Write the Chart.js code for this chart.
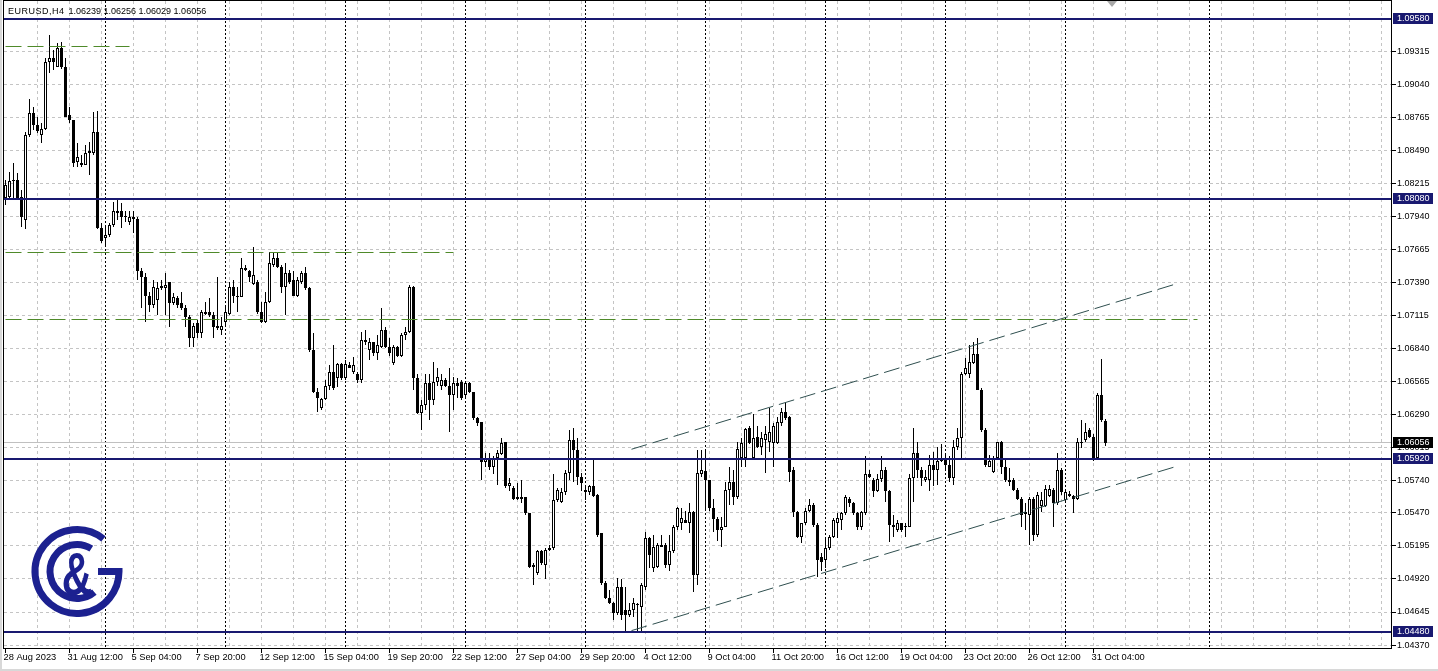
<!DOCTYPE html>
<html>
<head>
<meta charset="utf-8">
<title>EURUSD,H4</title>
<script src="https://cdn.jsdelivr.net/npm/chart.js@4"></script>
<style>
  html, body { margin: 0; padding: 0; background: #fff; }
  #wrap { position: relative; width: 1438px; height: 671px; overflow: hidden; }
  #caption {
    position: absolute; left: 8px; top: 5px;
    font: 9px "Liberation Sans", Arial, sans-serif; line-height: 12px;
    color: #000; white-space: pre;
  }
  #caption .sym { letter-spacing: 0.5px; }
  #caption .ohlc { margin-left: 4px; }
</style>
</head>
<body>
<div id="wrap">
  <canvas id="chart" width="1438" height="671"></canvas>
  <div id="caption"><span class="sym">EURUSD,H4</span><span class="ohlc" id="ohlc"></span></div>
</div>
<script>
// H4 candles, 28 Aug 2023 20:00 .. 31 Oct 2023 16:00
const opens = [
  1.0809,1.0810,1.0823,1.0824,1.0810,1.0791,1.0862,1.0880,1.0870,1.0862,
  1.0867,1.0922,1.0926,1.0918,1.0934,1.0918,1.0878,1.0874,1.0839,1.0838,
  1.0837,1.0847,1.0847,1.0864,1.0784,1.0776,1.0778,1.0787,1.0798,1.0798,
  1.0793,1.0789,1.0793,1.0792,1.0748,1.0743,1.0728,1.0720,1.0724,1.0734,
  1.0734,1.0739,1.0722,1.0726,1.0722,1.0718,1.0710,1.0693,1.0705,1.0697,
  1.0713,1.0714,1.0712,1.0703,1.0699,1.0706,1.0713,1.0735,1.0728,1.0727,
  1.0751,1.0748,1.0738,1.0739,1.0714,1.0706,1.0723,1.0753,1.0759,1.0752,
  1.0735,1.0747,1.0741,1.0728,1.0739,1.0747,1.0734,1.0683,1.0648,1.0634,
  1.0642,1.0653,1.0664,1.0659,1.0671,1.0659,1.0670,1.0664,1.0663,1.0658,
  1.0691,1.0683,1.0689,1.0680,1.0685,1.0699,1.0685,1.0672,1.0685,1.0678,
  1.0695,1.0698,1.0735,1.0659,1.0630,1.0637,1.0655,1.0641,1.0656,1.0653,
  1.0658,1.0653,1.0645,1.0655,1.0656,1.0645,1.0655,1.0648,1.0626,1.0623,
  1.0589,1.0593,1.0585,1.0593,1.0596,1.0606,1.0569,1.0568,1.0560,1.0560,
  1.0560,1.0547,1.0504,1.0497,1.0515,1.0504,1.0516,1.0518,1.0558,1.0556,
  1.0564,1.0580,1.0608,1.0599,1.0577,1.0566,1.0564,1.0569,1.0562,1.0530,
  1.0489,1.0476,1.0472,1.0464,1.0485,1.0466,1.0462,1.0466,1.0471,1.0469,
  1.0485,1.0526,1.0501,1.0502,1.0520,1.0520,1.0504,1.0515,1.0535,1.0539,
  1.0541,1.0539,1.0548,1.0495,1.0579,1.0582,1.0574,1.0551,1.0542,1.0533,
  1.0535,1.0566,1.0573,1.0560,1.0593,1.0593,1.0618,1.0593,1.0610,1.0602,
  1.0608,1.0606,1.0605,1.0605,1.0622,1.0631,1.0627,1.0583,1.0548,1.0527,
  1.0539,1.0549,1.0554,1.0537,1.0510,1.0508,1.0518,1.0527,1.0539,1.0541,
  1.0547,1.0559,1.0555,1.0547,1.0535,1.0547,1.0579,1.0574,1.0565,1.0575,
  1.0583,1.0565,1.0537,1.0533,1.0539,1.0535,1.0535,1.0576,1.0597,1.0583,
  1.0574,1.0574,1.0587,1.0583,1.0590,1.0591,1.0587,1.0576,1.0602,1.0609,
  1.0663,1.0663,1.0672,1.0679,1.0649,1.0616,1.0585,1.0581,1.0593,1.0606,
  1.0585,1.0574,1.0574,1.0566,1.0559,1.0548,1.0545,1.0559,1.0529,1.0553,
  1.0553,1.0561,1.0566,1.0555,1.0583,1.0558,1.0563,1.0561,1.0559,1.0605,
  1.0608,1.0616,1.0610,1.0593,1.0645,1.06239
];
const highs = [
  1.0824,1.0831,1.0838,1.0830,1.0816,1.0864,1.0892,1.0885,1.0877,1.0872,
  1.0926,1.0945,1.0932,1.0938,1.0939,1.0926,1.0885,1.0874,1.0855,1.0845,
  1.0853,1.0856,1.0881,1.0882,1.0788,1.0787,1.0788,1.0806,1.0808,1.0805,
  1.0798,1.0798,1.0798,1.0793,1.0751,1.0747,1.0731,1.0741,1.0739,1.0741,
  1.0747,1.0739,1.0730,1.0728,1.0731,1.0720,1.0712,1.0705,1.0708,1.0716,
  1.0723,1.0726,1.0714,1.0743,1.0710,1.0720,1.0739,1.0741,1.0735,1.0759,
  1.0753,1.0749,1.0768,1.0741,1.0723,1.0731,1.0764,1.0764,1.0764,1.0753,
  1.0755,1.0749,1.0748,1.0743,1.0748,1.0752,1.0735,1.0697,1.0651,1.0643,
  1.0658,1.0670,1.0687,1.0672,1.0672,1.0674,1.0673,1.0677,1.0664,1.0698,
  1.0699,1.0693,1.0689,1.0695,1.0718,1.0702,1.0693,1.0687,1.0686,1.0697,
  1.0702,1.0737,1.0736,1.0663,1.0641,1.0663,1.0663,1.0673,1.0668,1.0663,
  1.0659,1.0668,1.0660,1.0659,1.0658,1.0656,1.0656,1.0648,1.0627,1.0623,
  1.0597,1.0597,1.0594,1.0599,1.0609,1.0606,1.0576,1.0569,1.0572,1.0574,
  1.0560,1.0547,1.0505,1.0516,1.0516,1.0518,1.0520,1.0579,1.0568,1.0568,
  1.0583,1.0616,1.0618,1.0609,1.0580,1.0569,1.0570,1.0591,1.0563,1.0530,
  1.0490,1.0483,1.0473,1.0493,1.0492,1.0485,1.0472,1.0476,1.0472,1.0489,
  1.0531,1.0527,1.0529,1.0522,1.0529,1.0522,1.0529,1.0537,1.0552,1.0551,
  1.0549,1.0555,1.0549,1.0599,1.0599,1.0599,1.0574,1.0559,1.0544,1.0544,
  1.0573,1.0585,1.0583,1.0606,1.0609,1.0618,1.0619,1.0629,1.0619,1.0614,
  1.0619,1.0634,1.0622,1.0627,1.0634,1.0639,1.0628,1.0585,1.0549,1.0539,
  1.0551,1.0559,1.0555,1.0539,1.0514,1.0526,1.0529,1.0543,1.0547,1.0548,
  1.0562,1.0560,1.0556,1.0548,1.0549,1.0594,1.0583,1.0576,1.0579,1.0594,
  1.0585,1.0566,1.0545,1.0541,1.0539,1.0539,1.0579,1.0618,1.0606,1.0585,
  1.0583,1.0595,1.0598,1.0602,1.0604,1.0595,1.0594,1.0608,1.0618,1.0664,
  1.0676,1.0687,1.0689,1.0693,1.0651,1.0618,1.0595,1.0594,1.0606,1.0607,
  1.0593,1.0584,1.0576,1.0568,1.0560,1.0555,1.0560,1.0560,1.0564,1.0564,
  1.0570,1.0570,1.0568,1.0597,1.0584,1.0566,1.0565,1.0562,1.0609,1.0624,
  1.0622,1.0618,1.0613,1.0647,1.0675,1.06256
];
const lows = [
  1.0803,1.0809,1.0809,1.0808,1.0785,1.0783,1.0860,1.0866,1.0863,1.0855,
  1.0866,1.0913,1.0916,1.0918,1.0917,1.0877,1.0872,1.0835,1.0835,1.0835,
  1.0837,1.0828,1.0845,1.0783,1.0772,1.0770,1.0777,1.0785,1.0791,1.0784,
  1.0789,1.0787,1.0780,1.0741,1.0718,1.0706,1.0714,1.0718,1.0712,1.0733,
  1.0712,1.0702,1.0720,1.0718,1.0716,1.0702,1.0685,1.0685,1.0693,1.0693,
  1.0712,1.0710,1.0693,1.0699,1.0695,1.0702,1.0712,1.0722,1.0714,1.0727,
  1.0748,1.0739,1.0737,1.0713,1.0705,1.0705,1.0722,1.0752,1.0751,1.0730,
  1.0712,1.0738,1.0728,1.0727,1.0738,1.0733,1.0681,1.0647,1.0631,1.0633,
  1.0641,1.0649,1.0649,1.0652,1.0658,1.0658,1.0668,1.0663,1.0655,1.0655,
  1.0687,1.0674,1.0678,1.0674,1.0684,1.0684,1.0678,1.0670,1.0677,1.0677,
  1.0691,1.0697,1.0649,1.0629,1.0616,1.0633,1.0624,1.0637,1.0653,1.0649,
  1.0652,1.0614,1.0633,1.0643,1.0641,1.0643,1.0647,1.0624,1.0619,1.0574,
  1.0585,1.0583,1.0579,1.0570,1.0595,1.0568,1.0565,1.0558,1.0558,1.0555,
  1.0545,1.0501,1.0487,1.0495,1.0504,1.0492,1.0515,1.0516,1.0556,1.0555,
  1.0562,1.0574,1.0573,1.0570,1.0565,1.0558,1.0562,1.0560,1.0527,1.0487,
  1.0475,1.0471,1.0458,1.0462,1.0458,1.0448,1.0460,1.0460,1.0448,1.0449,
  1.0483,1.0501,1.0498,1.0501,1.0519,1.0501,1.0499,1.0514,1.0533,1.0533,
  1.0539,1.0530,1.0481,1.0487,1.0577,1.0550,1.0549,1.0531,1.0524,1.0519,
  1.0535,1.0554,1.0554,1.0559,1.0585,1.0585,1.0604,1.0591,1.0601,1.0595,
  1.0580,1.0598,1.0585,1.0604,1.0619,1.0624,1.0573,1.0544,1.0526,1.0522,
  1.0537,1.0548,1.0535,1.0494,1.0499,1.0501,1.0516,1.0526,1.0526,1.0533,
  1.0545,1.0552,1.0545,1.0533,1.0533,1.0545,1.0576,1.0560,1.0564,1.0573,
  1.0556,1.0523,1.0527,1.0531,1.0531,1.0527,1.0535,1.0556,1.0576,1.0569,
  1.0573,1.0565,1.0569,1.0570,1.0589,1.0583,1.0573,1.0570,1.0599,1.0591,
  1.0662,1.0659,1.0671,1.0649,1.0614,1.0585,1.0585,1.0580,1.0591,1.0579,
  1.0573,1.0569,1.0565,1.0558,1.0535,1.0533,1.0520,1.0524,1.0527,1.0548,
  1.0552,1.0560,1.0535,1.0554,1.0562,1.0555,1.0560,1.0547,1.0558,1.0601,
  1.0606,1.0609,1.0590,1.0591,1.0623,1.06029
];
const closes = [
  1.0820,1.0823,1.0824,1.0809,1.0793,1.0862,1.0880,1.0870,1.0865,1.0867,
  1.0922,1.0926,1.0922,1.0934,1.0918,1.0877,1.0874,1.0838,1.0843,1.0837,
  1.0847,1.0848,1.0864,1.0784,1.0773,1.0778,1.0787,1.0798,1.0797,1.0793,
  1.0793,1.0793,1.0792,1.0748,1.0743,1.0728,1.0720,1.0735,1.0734,1.0736,
  1.0737,1.0722,1.0727,1.0720,1.0718,1.0710,1.0693,1.0703,1.0697,1.0714,
  1.0714,1.0712,1.0702,1.0701,1.0703,1.0714,1.0735,1.0728,1.0727,1.0751,
  1.0749,1.0743,1.0745,1.0714,1.0706,1.0723,1.0755,1.0759,1.0752,1.0735,
  1.0747,1.0739,1.0728,1.0741,1.0747,1.0734,1.0683,1.0648,1.0643,1.0642,
  1.0653,1.0664,1.0651,1.0671,1.0659,1.0671,1.0668,1.0670,1.0658,1.0691,
  1.0689,1.0689,1.0680,1.0687,1.0699,1.0685,1.0680,1.0685,1.0678,1.0695,
  1.0698,1.0735,1.0659,1.0630,1.0637,1.0655,1.0641,1.0656,1.0660,1.0658,
  1.0653,1.0645,1.0655,1.0653,1.0643,1.0655,1.0648,1.0626,1.0622,1.0589,
  1.0593,1.0585,1.0593,1.0597,1.0605,1.0569,1.0572,1.0559,1.0559,1.0559,
  1.0547,1.0502,1.0502,1.0515,1.0505,1.0516,1.0518,1.0558,1.0566,1.0564,
  1.0580,1.0608,1.0599,1.0577,1.0572,1.0564,1.0569,1.0561,1.0529,1.0489,
  1.0476,1.0472,1.0464,1.0485,1.0462,1.0462,1.0466,1.0472,1.0470,1.0487,
  1.0526,1.0512,1.0519,1.0520,1.0519,1.0504,1.0515,1.0535,1.0551,1.0543,
  1.0539,1.0548,1.0495,1.0580,1.0583,1.0574,1.0551,1.0542,1.0533,1.0535,
  1.0566,1.0573,1.0560,1.0600,1.0605,1.0617,1.0605,1.0609,1.0602,1.0609,
  1.0613,1.0614,1.0619,1.0623,1.0631,1.0626,1.0581,1.0548,1.0527,1.0539,
  1.0549,1.0554,1.0537,1.0508,1.0506,1.0518,1.0527,1.0541,1.0543,1.0547,
  1.0560,1.0555,1.0547,1.0535,1.0548,1.0579,1.0577,1.0565,1.0575,1.0583,
  1.0565,1.0537,1.0535,1.0539,1.0533,1.0536,1.0576,1.0597,1.0583,1.0576,
  1.0577,1.0587,1.0583,1.0590,1.0593,1.0587,1.0576,1.0602,1.0609,1.0663,
  1.0668,1.0673,1.0679,1.0649,1.0616,1.0587,1.0590,1.0593,1.0606,1.0585,
  1.0574,1.0573,1.0566,1.0559,1.0545,1.0546,1.0559,1.0529,1.0562,1.0558,
  1.0567,1.0567,1.0555,1.0583,1.0564,1.0564,1.0561,1.0559,1.0606,1.0606,
  1.0614,1.0610,1.0593,1.0645,1.0624,1.06056
];

// time axis: one label every 16 bars, starting at bar 0
const timeLabels = ['28 Aug 2023', '31 Aug 12:00', '5 Sep 04:00', '7 Sep 20:00', '12 Sep 12:00',
  '15 Sep 04:00', '19 Sep 20:00', '22 Sep 12:00', '27 Sep 04:00', '29 Sep 20:00', '4 Oct 12:00',
  '9 Oct 04:00', '11 Oct 20:00', '16 Oct 12:00', '19 Oct 04:00', '23 Oct 20:00', '26 Oct 12:00', '31 Oct 04:00'];
// price scale labels
const priceTicks = [1.04370, 1.04645, 1.04920, 1.05195, 1.05470, 1.05740, 1.06015, 1.06290, 1.06565,
  1.06840, 1.07115, 1.07390, 1.07665, 1.07940, 1.08215, 1.08490, 1.08765, 1.09040, 1.09315];
// bars where a new week starts (period separators)
const weekStarts = [25, 55, 85, 115, 145, 175, 205, 235, 265, 301];

// drawn objects
const blueLevels = [1.09580, 1.08080, 1.05920, 1.04480];
const greenLevels = [1.0935, 1.0764, 1.0708];
const greenEnds = [31, 112, 298];
const channelUpper = [[156.5, 1.0600], [293, 1.0738]];
const channelLower = [[156.5, 1.0449], [293, 1.0586]];

const N = closes.length;
const X_MIN = -0.375, X_MAX = 346.625;
const Y_MIN = 1.04337, Y_MAX = 1.09732;

const NAVY = '#191970';
const GRID = '#c4c4c4';
const FONT = { family: '"Liberation Sans", Arial, sans-serif', size: 9 };

document.getElementById('ohlc').textContent =
  [opens[N - 1], highs[N - 1], lows[N - 1], closes[N - 1]].map(v => v.toFixed(5)).join(' ');

const wickData = highs.map((h, i) => ({ x: i, y: [lows[i], h] }));
const bodyData = opens.map((o, i) => ({ x: i, y: [Math.min(o, closes[i]), Math.max(o, closes[i])] }));
const bodyColors = opens.map((o, i) => closes[i] >= o ? '#ffffff' : '#000000');

function hLine(y, x0, x1, color, width, dash, order) {
  return {
    type: 'line', data: [{ x: x0, y: y }, { x: x1, y: y }],
    borderColor: color, borderWidth: width, borderDash: dash,
    pointRadius: 0, order: order, snap: true
  };
}

const datasets = [
  {
    label: 'bodies', data: bodyData, order: 3, grouped: false,
    backgroundColor: bodyColors, borderColor: '#000', borderWidth: 1, borderSkipped: false,
    barThickness: 3, maxBarThickness: 3, minBarLength: 1, inflateAmount: 0
  },
  {
    label: 'wicks', data: wickData, order: 4, grouped: false,
    backgroundColor: '#000', borderWidth: 0,
    barThickness: 1, maxBarThickness: 1, minBarLength: 1, inflateAmount: 0
  },
  hLine(closes[N - 1], X_MIN, X_MAX, '#c0c0c0', 1, [], 5)
];
blueLevels.forEach(v => datasets.push(hLine(v, X_MIN, X_MAX, NAVY, 2, [], 1)));
greenLevels.forEach((v, i) => datasets.push(hLine(v, 0, greenEnds[i], '#4f8a2a', 1, [16, 6], 1)));
[channelUpper, channelLower].forEach(c => datasets.push({
  type: 'line', data: c.map(p => ({ x: p[0], y: p[1] })),
  borderColor: '#2f4f4f', borderWidth: 1, borderDash: [16, 6], pointRadius: 0, order: 1
}));

const xTickValues = [];
for (let v = 0; v <= X_MAX; v += 8) xTickValues.push(v);
const hasLabel = v => v % 16 === 0 && v / 16 < timeLabels.length;

// keep candles and horizontal lines on whole pixels, as the terminal does
const snap = {
  id: 'snap',
  afterDatasetsUpdate(chart) {
    chart.data.datasets.forEach((ds, di) => {
      const meta = chart.getDatasetMeta(di);
      if (meta.type === 'bar') {
        meta.data.forEach(el => {
          const t = Math.round(Math.min(el.y, el.base));
          let b = Math.round(Math.max(el.y, el.base));
          if (b - t < 1) b = t + 1;
          el.y = t;
          el.base = b;
        });
      } else if (ds.snap) {
        meta.data.forEach(pt => {
          pt.y = ds.borderWidth % 2 ? Math.round(pt.y - 0.5) + 0.5 : Math.round(pt.y);
        });
      }
    });
  }
};

const separators = {
  id: 'separators',
  beforeDatasetsDraw(chart) {
    const { ctx, chartArea: a, scales: { x } } = chart;
    ctx.save();
    ctx.strokeStyle = '#000';
    ctx.lineWidth = 1;
    ctx.setLineDash([2, 2]);
    weekStarts.forEach(i => {
      const px = Math.round(x.getPixelForValue(i) - 0.5) + 0.5;
      ctx.beginPath();
      ctx.moveTo(px, a.top);
      ctx.lineTo(px, a.bottom);
      ctx.stroke();
    });
    ctx.restore();
  }
};

const logo = {
  id: 'logo',
  afterDatasetsDraw(chart) {
    const ctx = chart.ctx;
    const cx = 77, cy = 571.5, blue = '#1c2190';
    const rad = d => d * Math.PI / 180;
    ctx.save();
    ctx.strokeStyle = blue;
    ctx.fillStyle = blue;
    ctx.lineWidth = 7;
    ctx.beginPath();
    ctx.arc(cx, cy, 42, rad(-51), 0, true);
    ctx.lineTo(cx + 21, cy);
    ctx.stroke();
    ctx.beginPath();
    ctx.arc(cx, cy, 27, rad(-58), rad(50), true);
    ctx.stroke();
    ctx.translate(cx, 595);
    ctx.scale(0.68, 1);
    ctx.font = 'bold 62px "Liberation Sans", Arial, sans-serif';
    ctx.textAlign = 'center';
    ctx.textBaseline = 'alphabetic';
    ctx.fillText('&', 0, 0);
    ctx.restore();
  }
};

const frame = {
  id: 'frame',
  afterDraw(chart) {
    const { ctx, chartArea: a, scales: { y } } = chart;
    ctx.save();
    // window edge
    ctx.fillStyle = '#d8d8d8';
    ctx.fillRect(0, 0, 2, chart.height);
    ctx.fillRect(0, chart.height - 2, chart.width, 2);
    ctx.strokeStyle = '#000';
    ctx.lineWidth = 1;
    ctx.strokeRect(a.left - 0.5, a.top - 0.5, a.right - a.left, a.bottom - a.top);
    // chart shift marker
    ctx.fillStyle = '#a8a8a8';
    ctx.beginPath();
    ctx.moveTo(1107, 1); ctx.lineTo(1117, 1); ctx.lineTo(1112, 7);
    ctx.closePath();
    ctx.fill();
    // price labels of the lines
    ctx.font = '9px "Liberation Sans", Arial, sans-serif';
    ctx.textBaseline = 'middle';
    const box = (v, bg) => {
      const py = Math.round(y.getPixelForValue(v));
      ctx.fillStyle = bg;
      ctx.fillRect(a.right + 1, py - 6, 40, 11);
      ctx.fillStyle = '#fff';
      ctx.fillText(v.toFixed(5), a.right + 5, py);
    };
    blueLevels.forEach(v => box(v, NAVY));
    box(closes[N - 1], '#000');
    ctx.restore();
  }
};

new Chart(document.getElementById('chart'), {
  type: 'bar',
  data: { datasets: datasets },
  options: {
    responsive: false,
    animation: false,
    devicePixelRatio: 1,
    events: [],
    layout: { padding: { left: 4, top: 1, right: 0, bottom: 0 } },
    plugins: { legend: { display: false }, tooltip: { enabled: false }, title: { display: false } },
    scales: {
      x: {
        type: 'linear', position: 'bottom', min: X_MIN, max: X_MAX, offset: false,
        grid: {
          offset: false, lineWidth: 1,
          color: ctx => ctx.tick && ctx.tick.value === 0 ? 'rgba(0,0,0,0)' : GRID,
          drawTicks: true, tickLength: 4, tickWidth: 1, tickBorderDash: [],
          tickColor: ctx => ctx.tick && hasLabel(ctx.tick.value) ? '#000' : 'rgba(0,0,0,0)'
        },
        border: { display: false, dash: [3, 3] },
        ticks: {
          autoSkip: false, maxRotation: 0, minRotation: 0, align: 'start',
          labelOffset: -2, padding: -1, color: '#000', font: { family: FONT.family, size: 9.3 },
          callback: v => hasLabel(v) ? timeLabels[v / 16] : ''
        },
        afterBuildTicks: s => { s.ticks = xTickValues.map(v => ({ value: v })); },
        afterFit: s => { s.height = 22; s.paddingLeft = 0; s.paddingRight = 0; }
      },
      y: {
        type: 'linear', position: 'right', min: Y_MIN, max: Y_MAX, beginAtZero: false,
        grid: {
          color: GRID, lineWidth: 1, drawTicks: true, tickLength: 4, tickWidth: 1,
          tickColor: '#000', tickBorderDash: []
        },
        border: { display: false, dash: [3, 3] },
        ticks: { padding: 1, color: '#000', font: FONT, callback: v => v.toFixed(5) },
        afterBuildTicks: s => { s.ticks = priceTicks.map(v => ({ value: v })); },
        afterFit: s => { s.width = 46; s.paddingTop = 0; s.paddingBottom = 0; }
      }
    }
  },
  plugins: [snap, separators, logo, frame]
});
</script>
</body>
</html>
